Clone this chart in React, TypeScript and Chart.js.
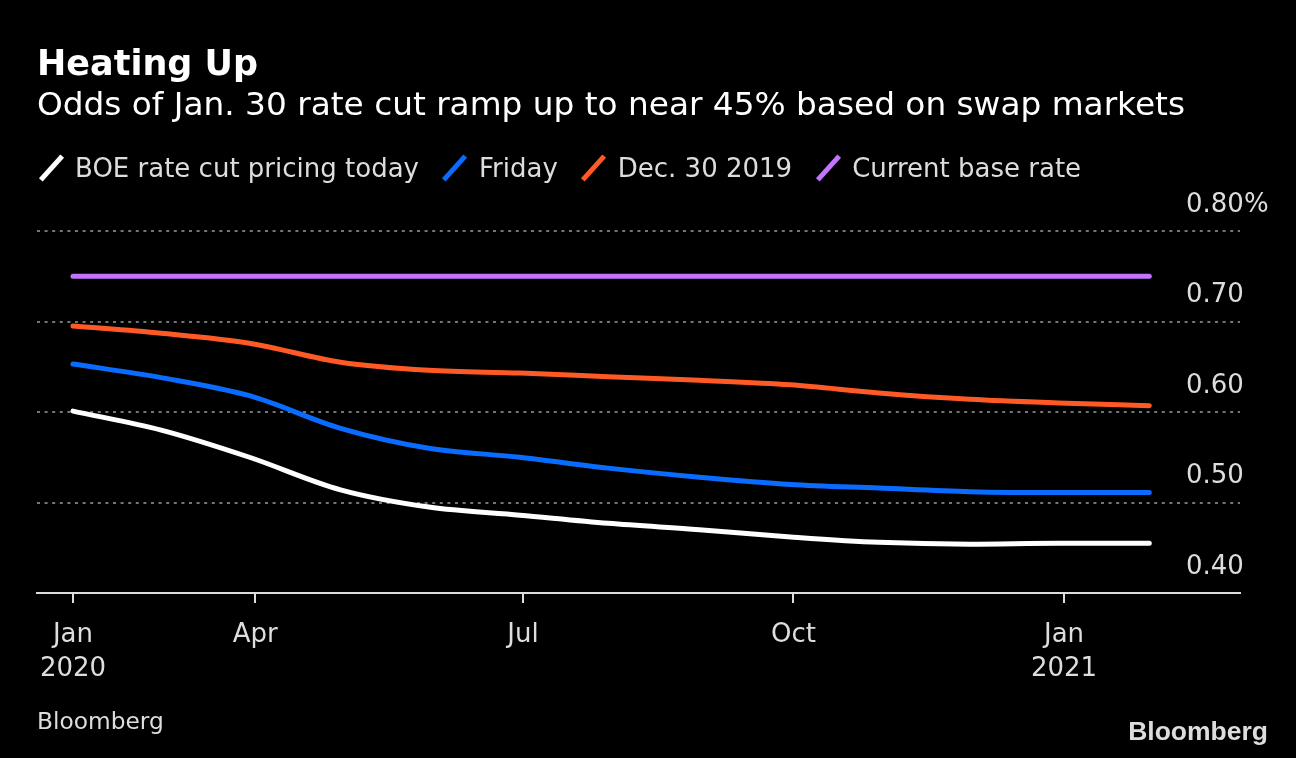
import React, { useEffect, useRef } from "react";
import { Chart, registerables } from "chart.js";

Chart.register(...registerables);

// ---- data ----
const pointDates = [
  "2020-01-30", "2020-02-29", "2020-03-30", "2020-04-30", "2020-05-30",
  "2020-06-30", "2020-07-30", "2020-08-30", "2020-09-30", "2020-10-30",
  "2020-11-30", "2020-12-30", "2021-01-30",
];
const todayPricing = [0.601, 0.58, 0.55, 0.514, 0.495, 0.486, 0.477, 0.47, 0.462, 0.456, 0.454, 0.455, 0.455];
const fridayPricing = [0.653, 0.638, 0.618, 0.582, 0.56, 0.55, 0.538, 0.528, 0.52, 0.516, 0.512, 0.511, 0.511];
const dec30Pricing = [0.695, 0.687, 0.676, 0.655, 0.646, 0.643, 0.639, 0.635, 0.63, 0.621, 0.614, 0.61, 0.607];
const baseRate = [0.75, 0.75, 0.75, 0.75, 0.75, 0.75, 0.75, 0.75, 0.75, 0.75, 0.75, 0.75, 0.75];

const seriesNames = ["BOE rate cut pricing today", "Friday", "Dec. 30 2019", "Current base rate"];
const seriesColors = ["#ffffff", "#0a6cff", "#ff5a26", "#c274ff"];

const xTickDates = ["2020-01-30", "2020-04-01", "2020-07-01", "2020-10-01", "2021-01-01"];
const xTickLabels = [["Jan", "2020"], ["Apr"], ["Jul"], ["Oct"], ["Jan", "2021"]];
const yTickValues = [0.4, 0.5, 0.6, 0.7, 0.8];
const yTickLabels = ["0.40", "0.50", "0.60", "0.70", "0.80%"];

const titleText = "Heating Up";
const subtitleText = "Odds of Jan. 30 rate cut ramp up to near 45% based on swap markets";
const sourceText = "Bloomberg";
const logoText = "Bloomberg";

// ---- helpers ----
const EPOCH = Date.UTC(2020, 0, 1);
const dayOf = (s: string) => (Date.parse(s + "T00:00:00Z") - EPOCH) / 86400000;
const X_MIN = 16.76;
const X_MAX = 425.85;

const FONT = "'DejaVu Sans', sans-serif";

export default function App() {
  const canvasRef = useRef<HTMLCanvasElement | null>(null);

  useEffect(() => {
    const canvas = canvasRef.current;
    if (!canvas) return;
    const xs = pointDates.map(dayOf);
    const allSeries = [todayPricing, fridayPricing, dec30Pricing, baseRate];
    const datasets = allSeries.map((vals, i) => ({
      label: seriesNames[i],
      data: vals.map((v, j) => ({ x: xs[j], y: v })),
      borderColor: seriesColors[i],
      backgroundColor: seriesColors[i],
      borderWidth: 5,
      borderCapStyle: "round" as const,
      borderJoinStyle: "round" as const,
      pointRadius: 0,
      cubicInterpolationMode: "monotone" as const,
      fill: false,
      order: 4 - i,
    }));
    const xTickPos = xTickDates.map(dayOf);

    const chart = new Chart(canvas, {
      type: "line",
      data: { datasets },
      options: {
        animation: false,
        responsive: false,
        maintainAspectRatio: false,
        layout: { padding: { left: 37, right: 36, top: 231, bottom: 65 } },
        plugins: { legend: { display: false }, tooltip: { enabled: false }, title: { display: false } },
        scales: {
          x: {
            type: "linear",
            min: X_MIN,
            max: X_MAX,
            afterBuildTicks: (scale: any) => {
              scale.ticks = xTickPos.map((v) => ({ value: v }));
            },
            afterFit: (scale: any) => {
              scale.height = 100;
            },
            grid: {
              drawOnChartArea: false,
              drawTicks: true,
              tickLength: 10,
              color: "#dddddd",
              lineWidth: 2,
            },
            border: { display: true, color: "#dddddd", width: 2 },
            ticks: {
              autoSkip: false,
              maxRotation: 0,
              minRotation: 0,
              padding: 15,
              color: "#dddddd",
              font: { family: FONT, size: 26, lineHeight: 1.31 },
              callback: (value: any) => {
                const idx = xTickPos.findIndex((p) => Math.abs(p - Number(value)) < 0.01);
                return idx >= 0 ? xTickLabels[idx] : "";
              },
            },
          },
          y: {
            type: "linear",
            position: "right",
            min: 0.4,
            max: 0.8,
            afterBuildTicks: (scale: any) => {
              scale.ticks = yTickValues.map((v) => ({ value: v }));
            },
            afterFit: (scale: any) => {
              scale.width = 20;
              // labels sit over the plot area, so do not clip them to the axis box
              scale._computeLabelArea = () => undefined;
            },
            grid: {
              drawTicks: false,
              color: (ctx: any) => (ctx.tick && Math.abs(ctx.tick.value - 0.4) < 1e-6 ? "rgba(0,0,0,0)" : "#757575"),
              lineWidth: 2,
            },
            border: { display: false, dash: [3, 4.6] },
            ticks: {
              padding: -54,
              crossAlign: "near",
              labelOffset: -26,
              color: "#dddddd",
              font: { family: FONT, size: 26 },
              callback: (value: any) => {
                const idx = yTickValues.findIndex((p) => Math.abs(p - Number(value)) < 1e-6);
                return idx >= 0 ? yTickLabels[idx] : "";
              },
            },
          },
        },
      } as any,
    });
    return () => chart.destroy();
  }, []);

  const textBase: React.CSSProperties = { position: "absolute", whiteSpace: "nowrap", fontFamily: FONT, margin: 0 };

  return (
    <div style={{ position: "fixed", left: 0, top: 0, width: 1296, height: 758, background: "#000", overflow: "hidden" }}>
      <canvas ref={canvasRef} width={1296} height={758} style={{ position: "absolute", left: 0, top: 0, width: 1296, height: 758 }} />
      <div style={{ ...textBase, left: 37, top: 46, fontSize: 35, lineHeight: "35px", fontWeight: "bold", color: "#ffffff" }}>{titleText}</div>
      <div style={{ ...textBase, left: 37, top: 88, fontSize: 32.75, lineHeight: "32.75px", color: "#ffffff" }}>{subtitleText}</div>
      <div style={{ ...textBase, left: 37, top: 154, height: 28, display: "flex", alignItems: "center" }}>
        {seriesNames.map((name, i) => (
          <div key={name} style={{ display: "flex", alignItems: "center", marginRight: 22 }}>
            <div style={{ width: 28, height: 28, position: "relative" }}>
              <div
                style={{
                  position: "absolute",
                  left: 11.5,
                  top: -2,
                  width: 5,
                  height: 32,
                  background: seriesColors[i],
                  transform: "rotate(42deg)",
                }}
              />
            </div>
            <span style={{ marginLeft: 10, fontSize: 26, lineHeight: "28px", color: "#dddddd" }}>{name}</span>
          </div>
        ))}
      </div>
      <div style={{ ...textBase, left: 37, top: 709, fontSize: 23.3, lineHeight: "23px", color: "#dddddd" }}>{sourceText}</div>
      <div
        style={{
          ...textBase,
          right: 28,
          top: 718,
          fontSize: 26.5,
          lineHeight: "26px",
          fontWeight: "bold",
          fontFamily: "'Liberation Sans', Arial, sans-serif",
          color: "#dddddd",
        }}
      >
        {logoText}
      </div>
    </div>
  );
}
